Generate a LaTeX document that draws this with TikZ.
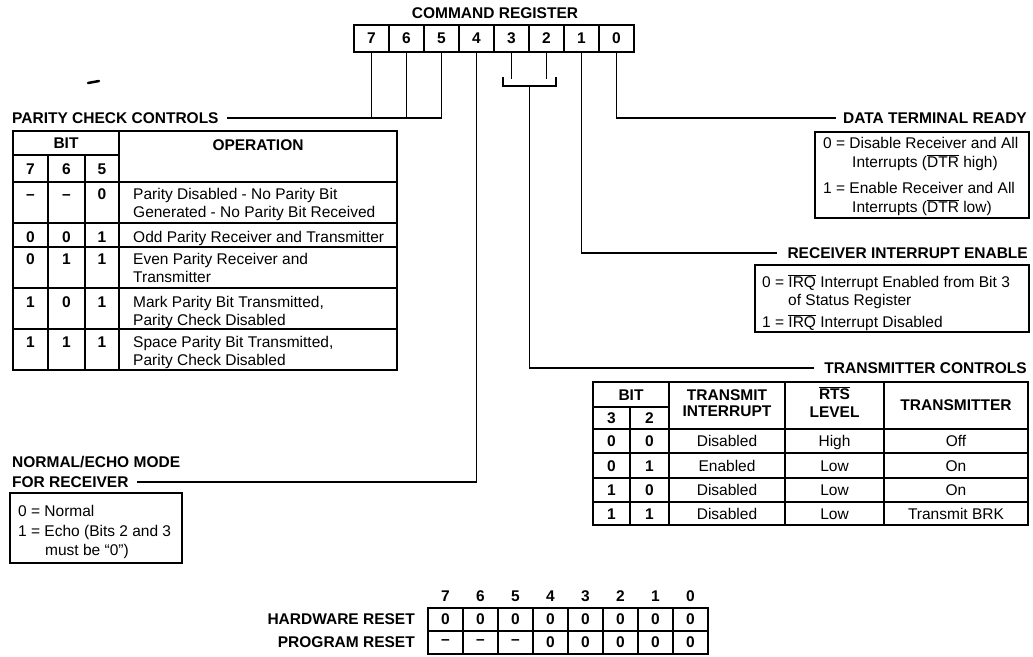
\documentclass[tikz,border=0pt]{standalone}
\usepackage{fontspec}
\setmainfont{Liberation Sans}
\usetikzlibrary{positioning,calc}

\newcommand{\barsig}[1]{$\overline{\mbox{#1}}$}

\begin{document}
\begin{tikzpicture}[
  x=1pt, y=-1pt,
  head/.style={font=\fontsize{15.5}{18}\selectfont\bfseries, inner sep=0pt},
  txt/.style={font=\fontsize{15.5}{18}\selectfont, inner sep=0pt, anchor=base west},
  ctxt/.style={font=\fontsize{15.5}{18}\selectfont, inner sep=0pt, anchor=base},
  dig/.style={font=\fontsize{15.5}{18}\selectfont\bfseries, inner sep=0pt, anchor=base},
  regcell/.style={draw, line width=1.6pt, minimum width=35pt, minimum height=27pt,
    inner sep=0pt, font=\fontsize{15.5}{18}\selectfont\bfseries},
  rstcell/.style={regcell, minimum height=23pt},
  wire/.style={line width=1.6pt},
  tabframe/.style={line width=1.8pt},
  gridline/.style={line width=1.3pt}
]
\useasboundingbox (0,0) rectangle (1033,656);

% Command register
\node[head] (cmdreg) at (495,13) {COMMAND REGISTER};
\foreach \b [count=\i from 0] in {7,6,...,0}
  \node[regcell] (b\b) at (371.5+35*\i,38.5) {\b};

% stray mark of the scan
\draw[line width=2.5pt, line cap=round] (88,83) -- (99,81);

% Parity check controls
\node[head, anchor=west] (pcc) at (12,118) {PARITY CHECK CONTROLS};
\draw[wire] (b5.south) |- ([xshift=8pt]pcc.east);
\foreach \b in {7,6}
  \draw[wire] (b\b.south) -- (b\b.south |- pcc.east);

\draw[tabframe] (13,131) rectangle (397,370);
\draw[gridline] (13,155) -- (119,155);
\foreach \y in {182,223,247,288,329}
  \draw[gridline] (13,\y) -- (397,\y);
\foreach \x in {48,85}
  \draw[gridline] (\x,155) -- (\x,370);
\draw[gridline] (119,131) -- (119,370);
\node[head] (pbit) at (66,143) {BIT};
\node[head] (pop) at (258,145) {OPERATION};
\foreach \b/\x in {7/30.5,6/66.5,5/102}
  \node[dig] (hd\b) at (\x,174) {\b};
\foreach \a/\b/\c/\la/\lb/\y [count=\r] in {
  \textendash/\textendash/0/{Parity Disabled - No Parity Bit}/{Generated - No Parity Bit Received}/199,
  0/0/1/{Odd Parity Receiver and Transmitter}/{}/242,
  0/1/1/{Even Parity Receiver and}/{Transmitter}/264,
  1/0/1/{Mark Parity Bit Transmitted,}/{Parity Check Disabled}/307,
  1/1/1/{Space Parity Bit Transmitted,}/{Parity Check Disabled}/347}
{
  \node[dig] (pa\r) at (30.5,\y) {\a};
  \node[dig] (pb\r) at (66.5,\y) {\b};
  \node[dig] (pc\r) at (102,\y) {\c};
  \node[txt] (pl\r) at (133,\y) {\la};
  \node[txt] (pm\r) at (133,\y+18) {\lb};
}

% Data terminal ready
\node[head, anchor=east] (dtr) at (1027,118) {DATA TERMINAL READY};
\draw[wire] (b0.south) |- ([xshift=-7pt]dtr.west);
\draw[tabframe] (815,132) rectangle (1029,218);
\node[txt] (dtr1) at (823,148.5) {0 = Disable Receiver and All};
\node[txt] (dtr2) at (852,167.5) {Interrupts (\barsig{DTR} high)};
\node[txt] (dtr3) at (823,193.5) {1 = Enable Receiver and All};
\node[txt] (dtr4) at (852,212.5) {Interrupts (\barsig{DTR} low)};

% Receiver interrupt enable
\node[head, anchor=east] (rie) at (1028,253) {RECEIVER INTERRUPT ENABLE};
\draw[wire] (b1.south) |- ([xshift=-10pt]rie.west);
\draw[tabframe] (755,265) rectangle (1029,332);
\node[txt] (rie1) at (762,287.5) {0 = \barsig{IRQ} Interrupt Enabled from Bit 3};
\node[txt] (rie2) at (788,305) {of Status Register};
\node[txt] (rie3) at (762,327) {1 = \barsig{IRQ} Interrupt Disabled};

% Transmitter controls
\draw[line width=1pt] (b3.south) -- ++(0,26);
\draw[line width=1pt] (b2.south) -- ++(0,26);
\draw[wire] (503,77) -- (503,86) -- (556,86) -- (556,77);
\coordinate (brk) at (529.5,86);
\node[head, anchor=east] (txc) at (1027,368) {TRANSMITTER CONTROLS};
\draw[wire] (brk) |- ([xshift=-10pt]txc.west);

\draw[tabframe] (593,382) rectangle (1028,525);
\draw[gridline] (593,407) -- (669,407);
\foreach \y in {429,453,478,502}
  \draw[gridline] (593,\y) -- (1028,\y);
\draw[gridline] (630,407) -- (630,525);
\foreach \x in {669,785,884}
  \draw[gridline] (\x,382) -- (\x,525);
\node[head] (tbit) at (631,395) {BIT};
\node[dig] (t3) at (611.5,423.5) {3};
\node[dig] (t2) at (649.5,423.5) {2};
\node[head] (tint1) at (727,395) {TRANSMIT};
\node[head] (tint2) at (727,411) {INTERRUPT};
\node[head] (trts1) at (834.5,393) {\barsig{RTS}};
\node[head] (trts2) at (834.5,412) {LEVEL};
\node[head] (ttx) at (956,405) {TRANSMITTER};
\foreach \a/\b/\ti/\lv/\tx/\y [count=\r] in {
  0/0/Disabled/High/Off/446.5,
  0/1/Enabled/Low/On/471,
  1/0/Disabled/Low/On/495.5,
  1/1/Disabled/Low/{Transmit BRK}/519}
{
  \node[dig] (ta\r) at (611.5,\y) {\a};
  \node[dig] (tb\r) at (649.5,\y) {\b};
  \node[ctxt] (ti\r) at (727,\y) {\ti};
  \node[ctxt] (tl\r) at (834.5,\y) {\lv};
  \node[ctxt] (tx\r) at (956,\y) {\tx};
}

% Normal/echo mode
\node[head, anchor=base west] (nem1) at (12,467.5) {NORMAL/ECHO MODE};
\node[head, anchor=west] (nem2) at (12,482) {FOR RECEIVER};
\draw[wire] (b4.south) |- ([xshift=8pt]nem2.east);
\draw[tabframe] (10,493) rectangle (182,563);
\node[txt] (nem3) at (18,516.5) {0 = Normal};
\node[txt] (nem4) at (18,536.5) {1 = Echo (Bits 2 and 3};
\node[txt] (nem5) at (45,555.5) {must be ``0'')};

% Reset values
\node[head, anchor=east] (hwr) at (415,619.5) {HARDWARE RESET};
\node[head, anchor=east] (pgr) at (415,642.5) {PROGRAM RESET};
\foreach \b [count=\i from 0] in {7,6,...,0} {
  \node[dig] (rn\b) at (445.5+35*\i,601) {\b};
  \node[rstcell] (hw\b) at (445.5+35*\i,619.5) {0};
}
\foreach \v [count=\i from 0] in {\textendash,\textendash,\textendash,0,0,0,0,0}
  \node[rstcell] (pr\i) at (445.5+35*\i,642.5) {\v};

\end{tikzpicture}
\end{document}
